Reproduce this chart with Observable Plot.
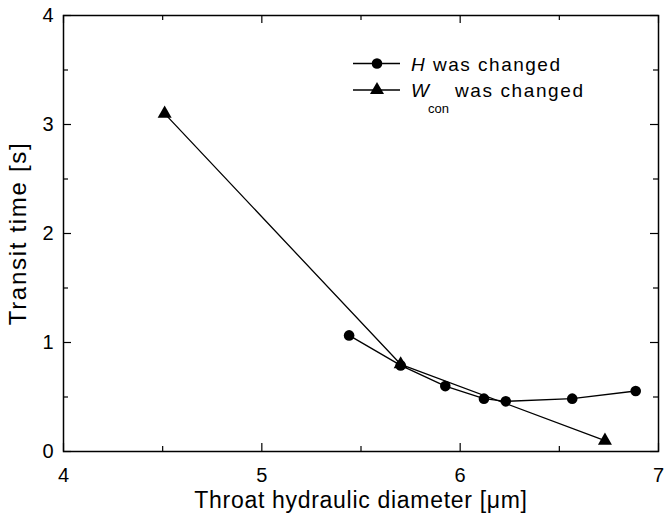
<!DOCTYPE html>
<html><head><meta charset="utf-8">
<script src="https://cdn.jsdelivr.net/npm/d3@7"></script>
<script src="https://cdn.jsdelivr.net/npm/@observablehq/plot@0.6"></script>
<style>body{margin:0;background:#fff}</style>
</head><body><div id="chart"></div>
<script>
// Series "H was changed" (circles)
const hX = [5.44, 5.70, 5.925, 6.12, 6.23, 6.565, 6.885];
const hY = [1.065, 0.79, 0.60, 0.485, 0.46, 0.485, 0.555];
// Series "W_con was changed" (triangles)
const wX = [4.51, 5.70, 6.73];
const wY = [3.10, 0.80, 0.10];
// Ticks
const xMajor = [4, 5, 6, 7];
const xMinor = [4.5, 5.5, 6.5];
const yMajor = [0, 1, 2, 3, 4];
const yMinor = [0.5, 1.5, 2.5, 3.5];
const xTitle = "Throat hydraulic diameter [\u03bcm]";
const yTitle = "Transit time [s]";

const hData = hX.map((x, i) => ({x, y: hY[i]}));
const wData = wX.map((x, i) => ({x, y: wY[i]}));

const W = 670, H = 529, mL = 63, mR = 12, mT = 15, mB = 78;
const fh = H - mT - mB, fw = W - mL - mR;
const major = 8, minor = 5;

const plot = Plot.plot({
  width: W, height: H,
  marginLeft: mL, marginRight: mR, marginTop: mT, marginBottom: mB,
  style: {fontSize: "20px", fontFamily: "'Liberation Sans', Arial, sans-serif", color: "#000", background: "#fff"},
  x: {domain: [4, 7], ticks: xMajor, tickSize: 0, tickPadding: 16, tickFormat: d => String(d), label: null},
  y: {domain: [0, 4], ticks: yMajor, tickSize: 0, tickPadding: 10, tickFormat: d => String(d), label: null},
  marks: [
    // inward ticks: bottom & top
    Plot.ruleX(xMajor, {x: d => d, insetTop: fh - major, stroke: "#000", strokeWidth: 1.2}),
    Plot.ruleX(xMinor, {x: d => d, insetTop: fh - minor, stroke: "#000", strokeWidth: 1.2}),
    Plot.ruleX(xMajor, {x: d => d, insetBottom: fh - major, stroke: "#000", strokeWidth: 1.2}),
    Plot.ruleX(xMinor, {x: d => d, insetBottom: fh - minor, stroke: "#000", strokeWidth: 1.2}),
    // inward ticks: left & right
    Plot.ruleY(yMajor, {y: d => d, insetRight: fw - major, stroke: "#000", strokeWidth: 1.2}),
    Plot.ruleY(yMinor, {y: d => d, insetRight: fw - minor, stroke: "#000", strokeWidth: 1.2}),
    Plot.ruleY(yMajor, {y: d => d, insetLeft: fw - major, stroke: "#000", strokeWidth: 1.2}),
    Plot.ruleY(yMinor, {y: d => d, insetLeft: fw - minor, stroke: "#000", strokeWidth: 1.2}),
    Plot.frame({stroke: "#000", strokeWidth: 1.5}),
    // series
    Plot.line(wData, {x: "x", y: "y", stroke: "#000", strokeWidth: 1.3}),
    Plot.line(hData, {x: "x", y: "y", stroke: "#000", strokeWidth: 1.3}),
    Plot.dot(hData, {x: "x", y: "y", r: 5.3, fill: "#000", stroke: "none"}),
    Plot.dot(wData, {x: "x", y: "y", r: 5.2, symbol: "triangle", fill: "#000", stroke: "none"}),
    // axis titles
    Plot.text([xTitle], {frameAnchor: "bottom", textAnchor: "middle", dy: 56, text: d => d, fontSize: 23, fill: "#000"}),
    Plot.text([yTitle], {frameAnchor: "left", textAnchor: "middle", dx: -45, rotate: -90, text: d => d, fontSize: 24, fill: "#000"})
  ]
});
document.getElementById("chart").appendChild(plot);

const svg = d3.select(plot);
// widen title letter spacing (font differs from the original)
svg.selectAll("text").filter(function() { return this.textContent === xTitle; }).attr("letter-spacing", "0.7px");
svg.selectAll("text").filter(function() { return this.textContent === yTitle; }).attr("letter-spacing", "1.7px");

// Legend
const lg = svg.append("g").attr("font-family", "'Liberation Sans', Arial, sans-serif").attr("fill", "#000").attr("text-anchor", "start");
const legendRows = [
  {y: 63.5, symbol: "circle", main: "H", sub: null},
  {y: 90, symbol: "triangle", main: "W", sub: "con"}
];
legendRows.forEach(r => {
  lg.append("line").attr("x1", 353).attr("x2", 400).attr("y1", r.y).attr("y2", r.y)
    .attr("stroke", "#000").attr("stroke-width", 1.3);
  if (r.symbol === "circle") {
    lg.append("circle").attr("cx", 377).attr("cy", r.y).attr("r", 5.3);
  } else {
    lg.append("path").attr("transform", `translate(377,${r.y})`)
      .attr("d", d3.symbol(d3.symbolTriangle, Math.PI * 5.2 * 5.2)());
  }
  const t = lg.append("text").attr("x", 411).attr("y", r.y + 7).attr("font-size", 19).attr("letter-spacing", "1.5px").attr("text-anchor", "start");
  t.append("tspan").attr("font-style", "italic").text(r.main);
  if (r.sub) {
    lg.append("text").attr("x", 428).attr("y", r.y + 23).attr("font-size", 13).attr("text-anchor", "start").text(r.sub);
    lg.append("text").attr("x", 455).attr("y", r.y + 7).attr("font-size", 19).attr("letter-spacing", "1.6px").attr("text-anchor", "start").text("was changed");
  } else {
    t.append("tspan").text(" was changed");
  }
});
</script>
</body></html>
